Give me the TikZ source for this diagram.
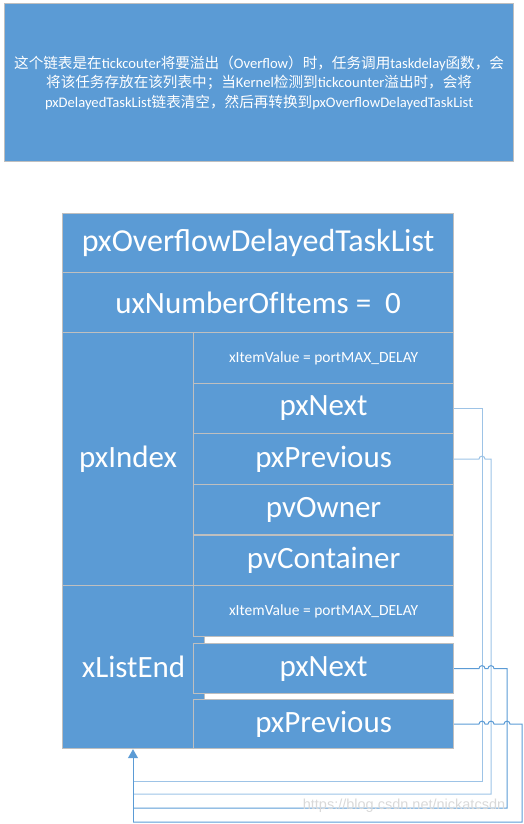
\documentclass[tikz,border=0pt]{standalone}
\usepackage{fontspec}
\setmainfont{Carlito}
\newfontfamily\cjkfont{Noto Sans CJK SC}
\newfontfamily\markfont{Liberation Sans}
\usetikzlibrary{arrows.meta,positioning,calc}
\definecolor{cellBlue} {RGB}{ 91,155,213}
\definecolor{cellLine} {RGB}{191,191,191}
\definecolor{linkLight}{RGB}{157,195,230}
\definecolor{linkDark} {RGB}{ 91,155,213}
\newcommand{\zh}[1]{{\cjkfont #1}}

\begin{document}
\begin{tikzpicture}[x=1pt,y=-1pt,
    cell/.style={draw=cellLine,line width=1.2pt,fill=cellBlue,text=white,
      inner sep=0pt,anchor=north west,font=\fontsize{31}{31}\selectfont},
    small/.style={font=\fontsize{15.5}{15.5}\selectfont},
    link/.style={line width=1pt,linkDark}]
  \useasboundingbox (0,0) rectangle (523,824);
  % note on top
  \node[cell,minimum width=509pt,minimum height=158pt,text width=505pt,align=center,
    font=\fontsize{14.6}{19.5}\selectfont] (note) at (4,3)
    {\zh{这个链表是在}tickcouter\zh{将要溢出（}Overflow\zh{）时，任务调用}taskdelay\zh{函数，会}\\
     \zh{将该任务存放在该列表中；当}Kernel\zh{检测到}tickcounter\zh{溢出时，会将}\\
     pxDelayedTaskList\zh{链表清空，然后再转换到}pxOverflowDelayedTaskList};
  % list header
  \node[cell,minimum width=391pt,minimum height=59pt,font=\fontsize{32}{32}\selectfont]
    (title) at (62,213) {pxOverflowDelayedTaskList};
  \node[cell,minimum width=391pt,minimum height=60pt] (count) at (62,272) {uxNumberOfItems =\ \ 0};
  % pxIndex item
  \node[cell,minimum width=142pt,minimum height=253pt] (index) at (62,332) {pxIndex\hspace*{11pt}};
  \node[cell,small,minimum width=260pt,minimum height=50.6pt] (idxValue) at (193,332)
    {xItemValue = portMAX\_DELAY};
  \foreach \name/\txt [count=\k] in {idxNext/pxNext,idxPrev/pxPrevious,idxOwner/pvOwner,idxCont/pvContainer}
    \node[cell,minimum width=260pt,minimum height=50.6pt] (\name) at (193,332+50.6*\k) {\txt};
  % xListEnd item
  \node[cell,minimum width=142pt,minimum height=163pt] (endBox) at (62,585) {xListEnd};
  \node[cell,small,minimum width=260pt,minimum height=51pt] (endValue) at (193,585)
    {xItemValue = portMAX\_DELAY};
  \node[cell,minimum width=260pt,minimum height=50pt] (endNext) at (193,643) {pxNext};
  \node[cell,minimum width=260pt,minimum height=49pt] (endPrev) at (193,699) {pxPrevious};
  % links back to xListEnd
  \coordinate (bus1) at (482,781);
  \coordinate (bus2) at (491,794);
  \coordinate (bus3) at (507,808);
  \coordinate (bus4) at (522,822);
  \coordinate (tail) at (133,822);
  \draw[link,linkLight] (idxNext.east) -| (bus1) -- (bus1 -| tail);
  \draw[link,linkLight] (idxPrev.east) -- ([xshift=-3pt]idxPrev.east -| bus1)
    arc[start angle=180,end angle=360,radius=3] -| (bus2) -- (bus2 -| tail);
  \draw[link] (endNext.east) -- ([xshift=-3pt]endNext.east -| bus1)
    arc[start angle=180,end angle=360,radius=3] -- ([xshift=-3pt]endNext.east -| bus2)
    arc[start angle=180,end angle=360,radius=3] -| (bus3) -- (bus3 -| tail);
  \draw[link] (endPrev.east) -- ([xshift=-3pt]endPrev.east -| bus1)
    arc[start angle=180,end angle=360,radius=3] -- ([xshift=-3pt]endPrev.east -| bus2)
    arc[start angle=180,end angle=360,radius=3] -- ([xshift=-3pt]endPrev.east -| bus3)
    arc[start angle=180,end angle=360,radius=3] -| (bus4) -- (tail);
  \draw[link,-{Triangle[width=10pt,length=9pt]}] (tail) -- (tail |- endBox.south);
  \node[font=\markfont\fontsize{14.5}{14.5}\selectfont,text=gray!30] (mark) at (404,806)
    {https://blog.csdn.net/nickatcsdn};
\end{tikzpicture}
\end{document}
